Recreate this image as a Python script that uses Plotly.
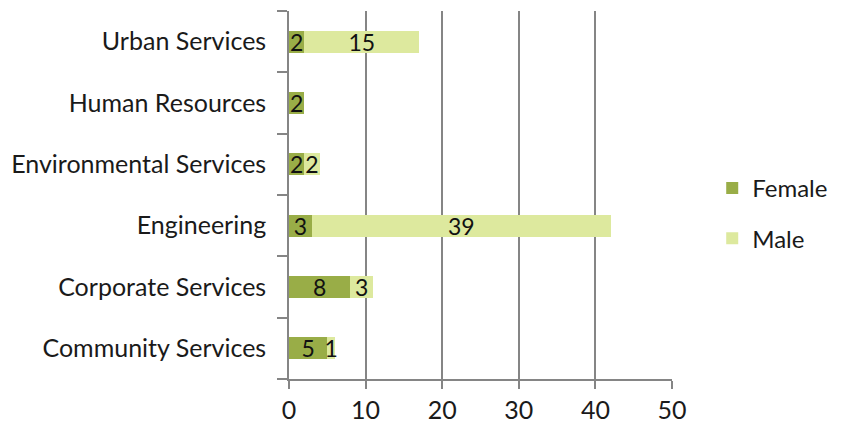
import plotly.graph_objects as go

categories = ["Community Services", "Corporate Services", "Engineering",
              "Environmental Services", "Human Resources", "Urban Services"]
female = [5, 8, 3, 2, 2, 2]
male = [1, 3, 39, 2, 0, 15]
x_ticks = [0, 10, 20, 30, 40, 50]

def labels(vals):
    return [str(v) if v else "" for v in vals]

FONT = "Lato, 'Open Sans', sans-serif"
fig = go.Figure()
fig.add_trace(go.Bar(
    y=categories, x=female, orientation="h", name="Female", legendgroup="f",
    marker=dict(color="#99ad47", line=dict(width=0)),
    text=labels(female), textposition="inside", insidetextanchor="middle", textangle=0,
    textfont=dict(color="#111111", size=23, family=FONT),
    cliponaxis=False,
))
fig.add_trace(go.Bar(
    y=categories, x=male, orientation="h", name="Male", legendgroup="m",
    marker=dict(color="#dde99e", line=dict(width=0)),
    text=labels(male), textposition="inside", insidetextanchor="middle", textangle=0,
    textfont=dict(color="#111111", size=23, family=FONT),
    cliponaxis=False,
))
fig.update_layout(
    barmode="stack", bargap=0.64,
    width=838, height=419,
    margin=dict(l=281, r=174, t=3, b=48, autoexpand=False),
    paper_bgcolor="white", plot_bgcolor="white",
    font=dict(family=FONT, size=24, color="#1a1a1a"),
    uniformtext=dict(minsize=23, mode="show"),
    showlegend=True,
    legend=dict(x=1.105, y=0.45, xanchor="left", yanchor="middle",
                font=dict(size=24), tracegroupgap=16, traceorder="grouped"),
)
fig.update_xaxes(
    range=[0, 50], tickvals=x_ticks, showgrid=True, gridcolor="#858585", gridwidth=1.6,
    showline=True, linecolor="#858585", linewidth=1.6,
    ticks="outside", ticklen=8, tickcolor="#858585", tickwidth=1.6,
    tickfont=dict(size=25), zeroline=False, fixedrange=True,
)
fig.update_yaxes(
    showline=True, linecolor="#858585", linewidth=1.6,
    ticks="outside", tickson="boundaries", ticklen=10, tickcolor="#858585", tickwidth=1.6,
    tickfont=dict(size=25), showgrid=False, ticklabelstandoff=16, automargin=False,
)
fig.write_html("out.html")
